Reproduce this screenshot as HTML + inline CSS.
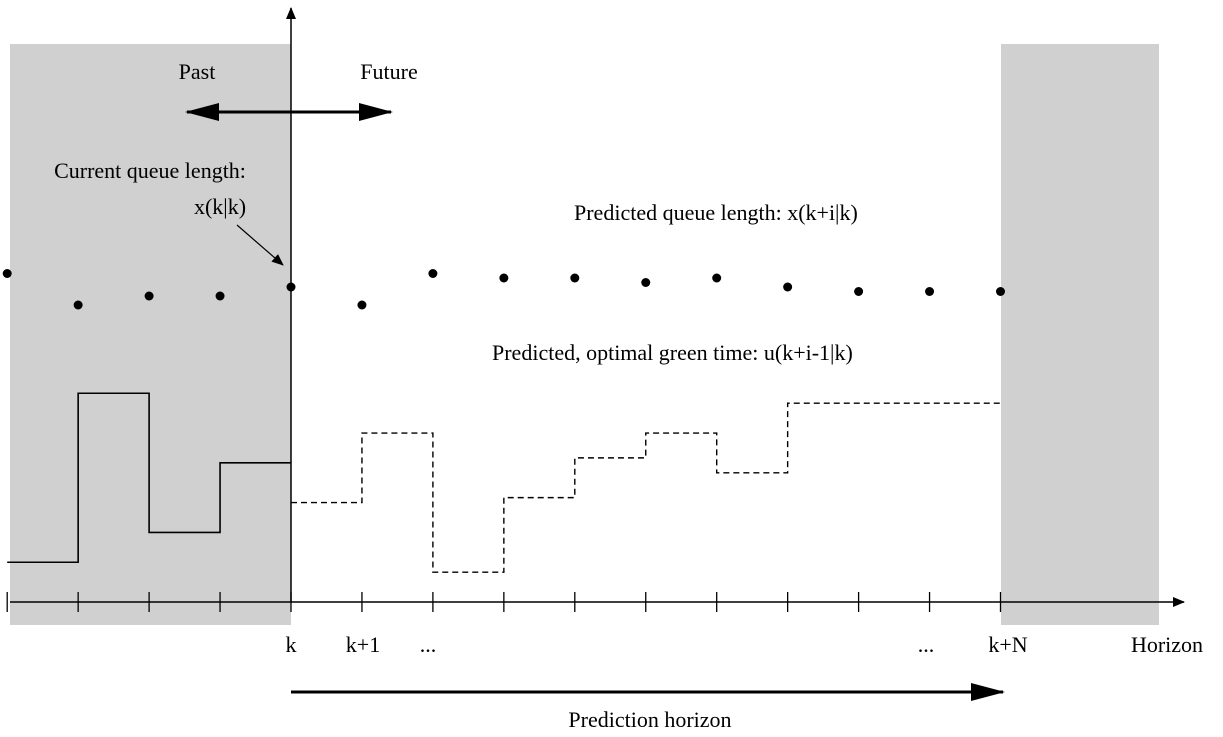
<!DOCTYPE html>
<html><head><meta charset="utf-8"><style>
html,body{margin:0;padding:0;background:#fff}
svg{display:block}
text{font-family:"Liberation Serif",serif;font-size:22px;fill:#000}
</style></head><body>
<svg id="chart" width="1223" height="737" viewBox="0 0 1223 737">
<defs>
<marker id="ah" markerWidth="12" markerHeight="10" refX="11" refY="5" orient="auto" markerUnits="userSpaceOnUse"><path d="M0,0 L12,5 L0,10 Z" fill="#000"/></marker>
<marker id="ahb" markerWidth="34" markerHeight="18" refX="32" refY="9" orient="auto" markerUnits="userSpaceOnUse"><path d="M0,0 L34,9 L0,18 Z" fill="#000"/></marker>
<marker id="ahbs" markerWidth="34" markerHeight="18" refX="2" refY="9" orient="auto" markerUnits="userSpaceOnUse"><path d="M34,0 L0,9 L34,18 Z" fill="#000"/></marker>
</defs>
<rect x="10" y="44" width="281" height="581" fill="#d0d0d0"/>
<rect x="1001" y="44" width="158" height="581" fill="#d0d0d0"/>
<g id="marks"></g>
<line x1="10" y1="602" x2="1184" y2="602" stroke="#000" stroke-width="1.5" marker-end="url(#ah)"/>
<line x1="291" y1="602" x2="291" y2="8" stroke="#000" stroke-width="1.5" marker-end="url(#ah)"/>
<line x1="187" y1="112" x2="391" y2="112" stroke="#000" stroke-width="3" marker-end="url(#ahb)" marker-start="url(#ahbs)"/>
<text x="197" y="79" text-anchor="middle">Past</text>
<text x="389" y="79" text-anchor="middle">Future</text>
<text x="150" y="178" text-anchor="middle">Current queue length:</text>
<text x="220" y="214" text-anchor="middle">x(k|k)</text>
<line x1="237" y1="225" x2="283" y2="265" stroke="#000" stroke-width="1.2" marker-end="url(#ah)"/>
<text x="574" y="220">Predicted queue length: x(k+i|k)</text>
<text x="492" y="360">Predicted, optimal green time: u(k+i-1|k)</text>
<text x="291" y="652" text-anchor="middle">k</text>
<text x="363" y="652" text-anchor="middle">k+1</text>
<text x="428" y="652" text-anchor="middle">...</text>
<text x="926" y="652" text-anchor="middle">...</text>
<text x="1008" y="652" text-anchor="middle">k+N</text>
<text x="1167" y="652" text-anchor="middle">Horizon</text>
<line x1="291" y1="692" x2="1003" y2="692" stroke="#000" stroke-width="3" marker-end="url(#ahb)"/>
<text x="650" y="727" text-anchor="middle">Prediction horizon</text>
</svg>
<script>
const steps = [-4,-3,-2,-1,0,1,2,3,4,5,6,7,8,9,10];
const queueValues = [0.73,0.66,0.68,0.68,0.70,0.66,0.73,0.72,0.72,0.71,0.72,0.70,0.69,0.69,0.69];
const pastGreen = [0.08,0.42,0.14,0.28];
const futureGreen = [0.20,0.34,0.06,0.21,0.29,0.34,0.26,0.40,0.40,0.40];
const NS="http://www.w3.org/2000/svg";
const g=document.getElementById('marks');
function xs(i){return 291+(i)*70.95;}
function yq(v){return 602-v*450;}
function yu(v){return 602-v*497;}
steps.forEach((s,i)=>{
 const t=document.createElementNS(NS,'line');
 
 
 t.setAttribute('x1',xs(s));t.setAttribute('x2',xs(s));t.setAttribute('y1',592);t.setAttribute('y2',612);
 t.setAttribute('stroke','#000');t.setAttribute('stroke-width','1.3');g.appendChild(t);
 const c=document.createElementNS(NS,'circle');
 
 
 c.setAttribute('cx',xs(s));c.setAttribute('cy',yq(queueValues[i]));c.setAttribute('r',4.5);c.setAttribute('fill','#000');g.appendChild(c);
});
function stepPath(vals,start){
 let d='';vals.forEach((v,i)=>{const x0=xs(start+i),x1=xs(start+i+1),y=yu(v);d+=(i===0?'M':'L')+x0+','+y+' L'+x1+','+y+' ';});return d;
}
const p1=document.createElementNS(NS,'path');


p1.setAttribute('d',stepPath(pastGreen,-4));p1.setAttribute('fill','none');p1.setAttribute('stroke','#000');p1.setAttribute('stroke-width','1.6');g.appendChild(p1);
const p2=document.createElementNS(NS,'path');


p2.setAttribute('d',stepPath(futureGreen,0));p2.setAttribute('fill','none');p2.setAttribute('stroke','#000');p2.setAttribute('stroke-width','1.4');p2.setAttribute('stroke-dasharray','6,4');g.appendChild(p2);
</script>
</body></html>
